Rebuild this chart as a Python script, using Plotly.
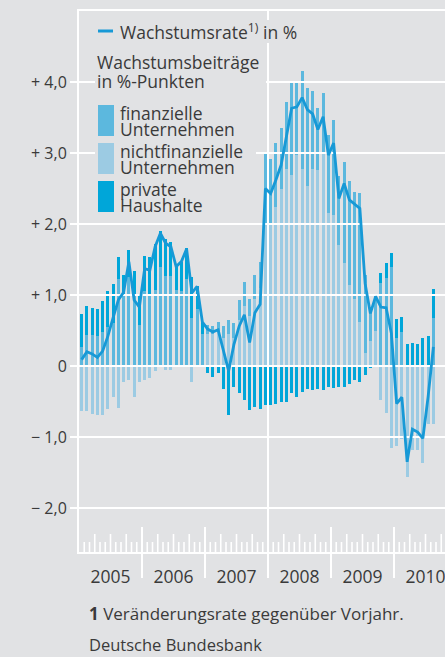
import plotly.graph_objects as go

# ---------------- data (monthly, Jan 2005 = 0) ----------------
months = list(range(68))
years = ["2005", "2006", "2007", "2008", "2009", "2010"]

rate = [0.09, 0.20, 0.17, 0.12, 0.21, 0.42, 0.68, 0.93, 1.04, 1.47, 0.93, 0.83,
        1.37, 1.35, 1.68, 1.87, 1.73, 1.68, 1.40, 1.47, 1.65, 1.03, 1.12, 0.62,
        0.52, 0.48, 0.51, 0.20, -0.07, 0.30, 0.56, 0.72, 0.33, 0.75, 0.87,
        2.50, 2.43, 2.62, 2.83, 3.23, 3.63, 3.65, 3.78, 3.61, 3.55, 3.33, 3.51, 2.97,
        3.14, 2.36, 2.57, 2.34, 2.28, 2.22, 1.16, 0.74, 0.98, 0.83, 0.82, 0.46,
        -0.53, -0.44, -1.35, -0.89, -0.93, -1.02, -0.43, 0.27]

nonfin = [-0.64, -0.64, -0.67, -0.69, -0.69, -0.60, -0.43, -0.59, -0.22, -0.20, -0.43, -0.22,
          -0.20, -0.17, -0.07, 0.00, -0.05, -0.05, 0.00, 0.00, 0.00, -0.23, 0.00, 0.00,
          0.45, 0.45, 0.48, 0.40, 0.45, 0.40, 0.65, 0.85, 0.70, 0.95, 1.10,
          2.01, 2.01, 2.24, 2.50, 2.78, 2.69, 2.97, 2.78, 2.53, 2.78, 2.76, 3.02, 2.15,
          2.13, 1.70, 1.45, 1.14, 0.95, 0.62, 0.18, 0.35, 0.50, -0.48, -0.66, -1.16,
          -1.13, -1.03, -1.57, -1.18, -1.18, -1.37, -0.81, -0.81]

fin = [0.27, 0.44, 0.43, 0.42, 0.48, 0.55, 0.60, 1.22, 1.00, 1.26, 0.98, 0.58,
       1.05, 0.99, 1.07, 1.39, 1.27, 1.27, 1.07, 1.05, 1.22, 0.67, 0.80, 0.45,
       0.13, 0.12, 0.14, 0.17, 0.20, 0.20, 0.28, 0.34, 0.25, 0.33, 0.37,
       0.99, 0.91, 0.90, 0.85, 0.94, 1.29, 1.02, 1.37, 1.38, 1.10, 0.87, 0.83, 1.10,
       1.33, 0.97, 1.43, 1.46, 1.50, 1.81, 1.10, 0.42, 0.48, 1.17, 1.24, 1.40,
       0.39, 0.48, 0.00, 0.00, 0.00, 0.00, 0.00, 0.67]

hh = [0.46, 0.40, 0.39, 0.38, 0.43, 0.50, 0.55, 0.32, 0.28, 0.38, 0.36, 0.42,
      0.50, 0.55, 0.65, 0.51, 0.52, 0.48, 0.35, 0.42, 0.44, 0.59, 0.33, 0.17,
      -0.10, -0.15, -0.10, -0.32, -0.69, -0.29, -0.38, -0.48, -0.62, -0.58, -0.60,
      -0.55, -0.55, -0.53, -0.50, -0.50, -0.38, -0.43, -0.36, -0.33, -0.34, -0.33, -0.34, -0.29,
      -0.31, -0.29, -0.29, -0.25, -0.20, -0.22, -0.13, -0.03, 0.00, 0.14, 0.21, 0.19,
      0.27, 0.21, 0.31, 0.32, 0.31, 0.39, 0.42, 0.42]

ytick_vals = [-2, -1, 0, 1, 2, 3, 4]
ytick_text = ["\u2212\u00a02,0", "\u2212\u00a01,0", "0", "+\u00a01,0", "+\u00a02,0", "+\u00a03,0", "+\u00a04,0"]

# ---------------- styling ----------------
BG = "#e1e2e4"
TXT = "#3a3a3a"
C_FIN = "#5cb8de"
C_NONFIN = "#9ccbe3"
C_HH = "#00a6d9"
C_LINE = "#1799d6"
FONT = "Open Sans"

W, H = 445, 657
ML, MT, MR, MB = 79, 11, 0, 105
PW, PH = W - ML - MR, H - MT - MB
PX_MONTH = 5.25
PX_UNIT = 71.0
XMIN = -0.5
XMAX = XMIN + PW / PX_MONTH
YMAX = 5.0
YMIN = YMAX - PH / PX_UNIT


def px2paper_x(px):
    return (px - ML) / PW


def py2paper_y(py):
    return (H - MB - py) / PH


fig = go.Figure()
BW = 0.6
fig.add_trace(go.Bar(x=months, y=nonfin, marker=dict(color=C_NONFIN, line_width=0), width=BW, hoverinfo="skip"))
fig.add_trace(go.Bar(x=months, y=fin, marker=dict(color=C_FIN, line_width=0), width=BW, hoverinfo="skip"))
fig.add_trace(go.Bar(x=months, y=hh, marker=dict(color=C_HH, line_width=0), width=BW, hoverinfo="skip"))

# grid lines above the bars
gx, gy = [], []
for v in ytick_vals:
    gx += [XMIN, XMAX, None]
    gy += [v, v, None]
# vertical marker at start of 2008
b2008 = 12 * years.index("2008") - 0.5
gx += [b2008, b2008, None]
gy += [YMIN, YMAX, None]
fig.add_trace(go.Scatter(x=gx, y=gy, mode="lines", line=dict(color="white", width=2), hoverinfo="skip"))

fig.add_trace(go.Scatter(x=months, y=rate, mode="lines", line=dict(color=C_LINE, width=2.8), hoverinfo="skip"))

shapes = []
# monthly ticks along the bottom
j = 1
while j - 0.5 < XMAX:
    xb = j - 0.5
    if j % 12 == 0:
        shapes.append(dict(type="line", xref="x", yref="paper", x0=xb, x1=xb,
                           y0=py2paper_y(578), y1=py2paper_y(527), line=dict(color="white", width=2)))
    elif j % 3 == 0:
        shapes.append(dict(type="line", xref="x", yref="paper", x0=xb, x1=xb,
                           y0=0, y1=py2paper_y(534), line=dict(color="white", width=1.6)))
    else:
        shapes.append(dict(type="line", xref="x", yref="paper", x0=xb, x1=xb,
                           y0=0, y1=py2paper_y(542), line=dict(color="white", width=1.6)))
    j += 1


def bgrect(x0, x1, y0, y1):
    shapes.append(dict(type="rect", xref="paper", yref="paper", x0=px2paper_x(x0), x1=px2paper_x(x1),
                       y0=py2paper_y(y1), y1=py2paper_y(y0), fillcolor=BG, line_width=0, layer="above"))


# background patches behind the legend texts (hide grid lines there)
bgrect(95, 306, 20, 43)
bgrect(95, 266, 51, 92)
bgrect(95, 256, 102, 215)

annotations = []


def txt(px, py, s, size=17.5, anchor="left"):
    annotations.append(dict(xref="paper", yref="paper", x=px2paper_x(px), y=py2paper_y(py),
                            text=s, showarrow=False, xanchor=anchor, yanchor="middle",
                            font=dict(family=FONT, size=size, color=TXT), borderpad=0))


# legend
shapes.append(dict(type="line", xref="paper", yref="paper", x0=px2paper_x(98), x1=px2paper_x(113),
                   y0=py2paper_y(31), y1=py2paper_y(31), line=dict(color=C_LINE, width=3), layer="above"))
txt(119, 31, "Wachstumsrate<sup>1)</sup> in %")
txt(96, 62, "Wachstumsbeiträge")
txt(96, 81, "in %-Punkten")
legend_items = [(C_FIN, "finanzielle", "Unternehmen", 105),
                (C_NONFIN, "nichtfinanzielle", "Unternehmen", 143),
                (C_HH, "private", "Haushalte", 181)]
for col, l1, l2, ytop in legend_items:
    shapes.append(dict(type="rect", xref="paper", yref="paper", x0=px2paper_x(98), x1=px2paper_x(114),
                       y0=py2paper_y(ytop + 31), y1=py2paper_y(ytop), fillcolor=col, line_width=0, layer="above"))
    txt(119, ytop + 8, l1)
    txt(119, ytop + 24, l2)

# footnotes
txt(88, 613, "<b>1</b> Veränderungsrate gegenüber Vorjahr.", size=17)
txt(88, 644, "Deutsche Bundesbank", size=16.5)

year_centers = [12 * k + 5.5 for k in range(len(years))]

fig.update_layout(
    width=W, height=H,
    margin=dict(l=ML, r=MR, t=MT, b=MB, pad=0, autoexpand=False),
    paper_bgcolor=BG, plot_bgcolor=BG,
    barmode="relative", bargap=0,
    showlegend=False,
    shapes=shapes, annotations=annotations,
    font=dict(family=FONT, color=TXT),
    xaxis=dict(range=[XMIN, XMAX], showgrid=False, zeroline=False, automargin=False,
               showline=True, linecolor="white", linewidth=2, mirror=True,
               tickvals=year_centers, ticktext=years, ticks="",
               ticklabeloverflow="allow",
               tickfont=dict(size=17.5, color=TXT), ticklabelstandoff=8, fixedrange=True),
    yaxis=dict(range=[YMIN, YMAX], showgrid=False, zeroline=False, automargin=False,
               showline=True, linecolor="white", linewidth=2,
               tickvals=ytick_vals, ticktext=ytick_text, ticks="outside",
               ticklen=7, tickwidth=2, tickcolor="white",
               tickfont=dict(size=16, color=TXT), fixedrange=True),
)

fig.write_html("out.html", config={"displayModeBar": False},
               post_script="document.body.style.margin='0';document.body.style.background='%s';" % BG)
